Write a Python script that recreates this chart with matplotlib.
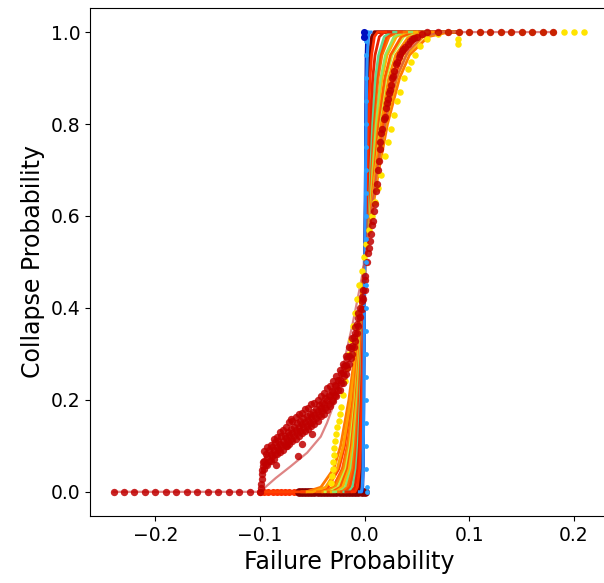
import matplotlib
matplotlib.use("Agg")
import matplotlib.pyplot as plt

# ---------------- data ----------------
# probability levels for the fitted curves
fit_y = [0, 0, 0.01, 0.05, 0.1, 0.2, 0.3, 0.4, 0.5, 0.6, 0.7, 0.8, 0.9, 0.95, 0.99, 1, 1]

# fitted curves: failure probability at each level of fit_y
fit_dblue = [-0.003, -0.002, -0.0015, -0.001, -0.0008, -0.0005, -0.0003, -0.0001, 0.0,
             0.0001, 0.0003, 0.0005, 0.0008, 0.001, 0.0015, 0.002, 0.004]
fit_blue = [-0.005, -0.0031, -0.0023, -0.0016, -0.0013, -0.0008, -0.0005, -0.0003, 0.0,
            0.0004, 0.0008, 0.0013, 0.0019, 0.0025, 0.0035, 0.0047, 0.006]
fit_maroon = [-0.063, -0.0062, -0.0047, -0.0033, -0.0026, -0.0017, -0.001, -0.0005, 0.0,
              0.0008, 0.0016, 0.0025, 0.0038, 0.0049, 0.007, 0.0093, 0.09]
fit_c14 = [-0.012, -0.0093, -0.007, -0.0049, -0.0038, -0.0025, -0.0016, -0.0008, 0.0,
           0.001, 0.0021, 0.0034, 0.0051, 0.0066, 0.0093, 0.0124, 0.02]
fit_c13 = [-0.018, -0.0124, -0.0093, -0.0066, -0.0051, -0.0034, -0.0021, -0.001, 0.0,
           0.0015, 0.0031, 0.005, 0.0077, 0.0099, 0.014, 0.0186, 0.025]
fit_c12 = [-0.02, -0.0155, -0.0117, -0.0082, -0.0064, -0.0042, -0.0026, -0.0013, 0.0,
           0.002, 0.0042, 0.0067, 0.0102, 0.0132, 0.0186, 0.0248, 0.03]
fit_c11 = [-0.022, -0.0186, -0.014, -0.0099, -0.0077, -0.005, -0.0031, -0.0015, 0.0,
           0.0023, 0.0047, 0.0076, 0.0115, 0.0148, 0.021, 0.0279, 0.035]
fit_c10 = [-0.025, -0.0217, -0.0163, -0.0115, -0.009, -0.0059, -0.0036, -0.0018, 0.0,
           0.0025, 0.0052, 0.0084, 0.0128, 0.0165, 0.0233, 0.031, 0.04]
fit_c9 = [-0.03, -0.0248, -0.0186, -0.0132, -0.0102, -0.0067, -0.0042, -0.002, 0.0,
          0.003, 0.0062, 0.0101, 0.0154, 0.0197, 0.028, 0.0372, 0.045]
fit_c8 = [-0.032, -0.0279, -0.021, -0.0148, -0.0115, -0.0076, -0.0047, -0.0023, 0.0,
          0.0033, 0.0068, 0.0109, 0.0166, 0.0214, 0.0303, 0.0403, 0.05]
fit_c7 = [-0.035, -0.031, -0.0233, -0.0165, -0.0128, -0.0084, -0.0052, -0.0025, 0.0,
          0.0038, 0.0078, 0.0126, 0.0192, 0.0247, 0.035, 0.0465, 0.055]
fit_c6 = [-0.038, -0.0341, -0.0256, -0.0181, -0.0141, -0.0092, -0.0057, -0.0028, 0.0,
          0.004, 0.0083, 0.0134, 0.0205, 0.0263, 0.0373, 0.0496, 0.06]
fit_c5 = [-0.04, -0.0372, -0.028, -0.0197, -0.0154, -0.0101, -0.0062, -0.003, 0.0,
          0.0045, 0.0094, 0.0151, 0.023, 0.0296, 0.0419, 0.0558, 0.065]
fit_c4 = [-0.045, -0.0403, -0.0303, -0.0214, -0.0166, -0.0109, -0.0068, -0.0033, 0.0,
          0.005, 0.0104, 0.0168, 0.0256, 0.0329, 0.0466, 0.062, 0.07]
fit_c2 = [-0.10, -0.0465, -0.035, -0.0247, -0.0192, -0.0126, -0.0078, -0.0038, 0.0,
          0.0055, 0.0114, 0.0185, 0.0282, 0.0362, 0.0513, 0.0682, 0.08]
fit_c3 = [-0.055, -0.0496, -0.0373, -0.0263, -0.0205, -0.0134, -0.0083, -0.004, 0.0,
          0.006, 0.0125, 0.0202, 0.0307, 0.0395, 0.0559, 0.0744, 0.085]
fit_c1 = [-0.06, -0.0558, -0.0419, -0.0296, -0.023, -0.0151, -0.0094, -0.0045, 0.0,
          0.0065, 0.0135, 0.0218, 0.0333, 0.0428, 0.0606, 0.0806, 0.09]

# fitted curve of the widest (dark red) data set
fit_wide_x = [-0.24, -0.10, -0.095, -0.085, -0.071, -0.055, -0.042, -0.036, -0.028, -0.020,
              -0.012, -0.005, 0.0, 0.006, 0.012, 0.018, 0.024, 0.032, 0.042, 0.055, 0.075, 0.18]
fit_wide_y = [0, 0, 0.01, 0.03, 0.055, 0.085, 0.12, 0.15, 0.2, 0.28, 0.36, 0.44, 0.5, 0.6,
              0.7, 0.78, 0.85, 0.91, 0.96, 0.99, 1.0, 1.0]

# widest data set (dark red scatter)
wide_flat_x = [-0.24, -0.23, -0.22, -0.21, -0.20, -0.19, -0.18, -0.17, -0.16, -0.15, -0.14,
               -0.13, -0.12, -0.11, -0.10]
wide_flat_y = [0] * 15
wide_jump_x = [-0.099, -0.099, -0.098, -0.098, -0.098, -0.097, -0.097]
wide_jump_y = [0.008, 0.018, 0.028, 0.038, 0.048, 0.056, 0.064]
band_x = [-0.096, -0.093, -0.090, -0.087, -0.084, -0.081, -0.078, -0.075, -0.072, -0.069,
          -0.066, -0.063, -0.060, -0.057, -0.054, -0.051, -0.048, -0.045, -0.042, -0.039,
          -0.036, -0.033, -0.030, -0.027, -0.024, -0.021, -0.018, -0.015, -0.012, -0.009,
          -0.006, -0.003, 0.000]
band_mid = [0.068, 0.075, 0.082, 0.090, 0.098, 0.105, 0.111, 0.117, 0.123, 0.129, 0.135,
            0.141, 0.147, 0.152, 0.157, 0.162, 0.168, 0.175, 0.183, 0.190, 0.199, 0.208,
            0.218, 0.230, 0.243, 0.258, 0.276, 0.296, 0.318, 0.345, 0.378, 0.415, 0.46]
band_hi = [0.088, 0.097, 0.102, 0.115, 0.119, 0.131, 0.134, 0.142, 0.151, 0.154, 0.162,
           0.169, 0.172, 0.180, 0.182, 0.191, 0.194, 0.200, 0.209, 0.214, 0.226, 0.230,
           0.242, 0.252, 0.266, 0.278, 0.296, 0.314, 0.334, 0.359, 0.389, 0.424, 0.47]
band_lo = [0.050, 0.058, 0.066, 0.072, 0.082, 0.087, 0.091, 0.100, 0.103, 0.110, 0.115,
           0.122, 0.127, 0.132, 0.137, 0.143, 0.148, 0.155, 0.164, 0.169, 0.179, 0.187,
           0.197, 0.209, 0.222, 0.237, 0.257, 0.277, 0.299, 0.327, 0.36, 0.398, 0.44]
band2_x = [-0.0945, -0.0915, -0.0885, -0.0855, -0.0825, -0.0795, -0.0765, -0.0735, -0.0705,
           -0.0675, -0.0645, -0.0615, -0.0585, -0.0555, -0.0525, -0.0495, -0.0465, -0.0435,
           -0.0405, -0.0375, -0.0345, -0.0315, -0.0285, -0.0255, -0.0225, -0.0195, -0.0165,
           -0.0135, -0.0105, -0.0075, -0.0045, -0.0015]
band2_a = [0.082, 0.090, 0.097, 0.108, 0.110, 0.121, 0.122, 0.131, 0.137, 0.140, 0.149,
           0.153, 0.160, 0.164, 0.170, 0.173, 0.180, 0.188, 0.194, 0.203, 0.210, 0.220,
           0.232, 0.244, 0.258, 0.273, 0.292, 0.312, 0.336, 0.365, 0.400, 0.44]
band2_b = [0.060, 0.068, 0.078, 0.083, 0.093, 0.098, 0.104, 0.110, 0.115, 0.122, 0.128,
           0.133, 0.140, 0.144, 0.150, 0.155, 0.160, 0.166, 0.176, 0.182, 0.192, 0.200,
           0.210, 0.222, 0.236, 0.252, 0.270, 0.290, 0.315, 0.345, 0.380, 0.42]
band_out_x = [-0.085, -0.074, -0.064, -0.060, -0.050, -0.070]
band_out_y = [0.058, 0.100, 0.077, 0.105, 0.125, 0.158]
wide_up_x = [0.002, 0.004, 0.006, 0.008, 0.010, 0.012, 0.014, 0.015, 0.016, 0.018, 0.020,
             0.022, 0.024, 0.026, 0.028, 0.031, 0.034, 0.037, 0.041, 0.045, 0.050, 0.055,
             0.06, 0.07, 0.08, 0.09, 0.10, 0.11, 0.12, 0.13, 0.14, 0.15, 0.16, 0.17, 0.18]
wide_up_y = [0.50, 0.53, 0.56, 0.59, 0.625, 0.67, 0.72, 0.76, 0.78, 0.81, 0.835, 0.855,
             0.875, 0.90, 0.915, 0.935, 0.952, 0.963, 0.974, 0.984, 0.99, 0.995,
             1, 1, 1, 1, 1, 1, 1, 1, 1, 1, 1, 1, 1]
wide_up2_x = [0.003, 0.005, 0.007, 0.009, 0.011, 0.013, 0.015, 0.017, 0.019, 0.021, 0.023,
              0.025, 0.027, 0.030, 0.033, 0.036, 0.039, 0.043, 0.047]
wide_up2_y = [0.52, 0.545, 0.58, 0.61, 0.655, 0.70, 0.745, 0.79, 0.815, 0.845, 0.868, 0.885,
              0.905, 0.93, 0.945, 0.958, 0.968, 0.98, 0.988]

# yellow data set
yellow_x = [-0.032, -0.031, -0.030, -0.030, -0.029, -0.029, -0.028, -0.027, -0.026, -0.025,
            -0.024, -0.023, -0.021, -0.019, -0.017, -0.015, -0.013, -0.011, -0.009, -0.007,
            -0.005, -0.003, -0.001, 0.001, 0.004, 0.007, 0.010, 0.013, 0.016, 0.019, 0.022,
            0.025, 0.028, 0.031, 0.034, 0.038, 0.041, 0.044, 0.048, 0.053, 0.060, 0.07,
            0.08, 0.089, 0.089, 0.09, 0.10, 0.11, 0.12, 0.13, 0.14, 0.15, 0.16, 0.17, 0.18,
            0.19, 0.20, 0.21]
yellow_y = [0.02, 0.035, 0.05, 0.065, 0.08, 0.095, 0.11, 0.125, 0.14, 0.155, 0.17, 0.185,
            0.21, 0.24, 0.27, 0.30, 0.33, 0.36, 0.39, 0.42, 0.45, 0.48, 0.51, 0.54, 0.57,
            0.60, 0.63, 0.66, 0.69, 0.73, 0.76, 0.79, 0.82, 0.85, 0.87, 0.90, 0.92, 0.935,
            0.95, 0.97, 0.985, 0.995, 1, 0.975, 0.985, 1, 1, 1, 1, 1, 1, 1, 1, 1, 1, 1, 1, 1]

# maroon data set (flat at zero)
maroon_x = [-0.063, -0.060, -0.057, -0.054, -0.051, -0.048, -0.045, -0.042, -0.039, -0.036,
            -0.033, -0.030, -0.027, -0.024, -0.021, -0.018, -0.015, -0.012, -0.009, -0.006,
            -0.003, 0.0]
maroon_y = [0] * 22

# red-orange data set flat part
redorange_x = [-0.100, -0.096, -0.092, -0.088, -0.084, -0.080, -0.076, -0.072, -0.068, -0.064]
redorange_y = [0] * 10

# blue data sets
blue_x = [0.002, 0.002, 0.001, 0.001, 0.001, 0.001, 0.001, 0.001, 0.001, 0.001, 0.001,
          0.001, 0.001, 0.001, 0.001, 0.001, 0.001, 0.001, 0.001, 0.001, 0.001, 0.001, 0.002]
blue_y = [0.0, 0.01, 0.05, 0.1, 0.15, 0.2, 0.25, 0.3, 0.35, 0.4, 0.45, 0.5, 0.55, 0.6,
          0.65, 0.7, 0.75, 0.8, 0.85, 0.9, 0.95, 0.98, 1.0]
dblue_x = [-0.001, -0.0005]
dblue_y = [1.0, 0.99]

# ---------------- plot ----------------
fig = plt.figure(figsize=(6.04, 5.83), dpi=100)
ax = fig.add_axes([0.149, 0.115, 0.8576, 0.8714])

fits = [
    (fit_maroon, "#800000", 2.6),
    (fit_c1, "#ff7800", 2.0),
    (fit_c2, "#ff4000", 2.0),
    (fit_c3, "#ffa000", 2.0),
    (fit_c4, "#ff6400", 2.0),
    (fit_c5, "#ff8c00", 2.0),
    (fit_c6, "#c8f040", 1.8),
    (fit_c7, "#ff5a00", 2.0),
    (fit_c8, "#ffb000", 2.0),
    (fit_c9, "#90e860", 1.8),
    (fit_c10, "#ff7000", 2.0),
    (fit_c11, "#ff4800", 2.0),
    (fit_c12, "#60d890", 1.8),
    (fit_c13, "#e82000", 2.0),
    (fit_c14, "#ff3000", 2.0),
    (fit_dblue, "#0010b0", 1.5),
    (fit_blue, "#2a90ff", 2.2),
]

ax.scatter(redorange_x, redorange_y, s=26, color="#ff3000", zorder=2, linewidths=0)
ax.scatter(maroon_x, maroon_y, s=40, color="#8a0000", zorder=2, linewidths=0)

for xs, c, lw in fits:
    ax.plot(xs, fit_y, color=c, lw=lw, zorder=3)

ax.plot(fit_wide_x, fit_wide_y, color="#d05050", lw=1.6, alpha=0.7, zorder=3)

ax.scatter(yellow_x, yellow_y, s=22, color="#ffe400", zorder=4, linewidths=0)

dr = "#c00000"
kw = dict(s=28, color=dr, alpha=0.85, zorder=5, linewidths=0)
ax.scatter(wide_flat_x, wide_flat_y, **kw)
ax.scatter(wide_jump_x, wide_jump_y, **kw)
ax.scatter(band_x, band_hi, **kw)
ax.scatter(band_x, band_mid, **kw)
ax.scatter(band_x, band_lo, **kw)
ax.scatter(band2_x, band2_a, **kw)
ax.scatter(band2_x, band2_b, **kw)
ax.scatter(band_out_x, band_out_y, **kw)
ax.scatter(wide_up_x, wide_up_y, **kw)
ax.scatter(wide_up2_x, wide_up2_y, **kw)

ax.scatter(blue_x, blue_y, s=12, color="#2aa0ff", zorder=6, linewidths=0)
ax.scatter(dblue_x, dblue_y, s=26, color="#0010c0", zorder=6, linewidths=0)

ax.set_xlim(-0.2625, 0.2325)
ax.set_ylim(-0.0525, 1.0525)
ax.set_xticks([-0.2, -0.1, 0.0, 0.1, 0.2])
ax.set_yticks([0.0, 0.2, 0.4, 0.6, 0.8, 1.0])
ax.tick_params(labelsize=13.5)
ax.set_xlabel("Failure Probability", fontsize=17)
ax.set_ylabel("Collapse Probability", fontsize=17)

fig.savefig("out.png", dpi=100)
